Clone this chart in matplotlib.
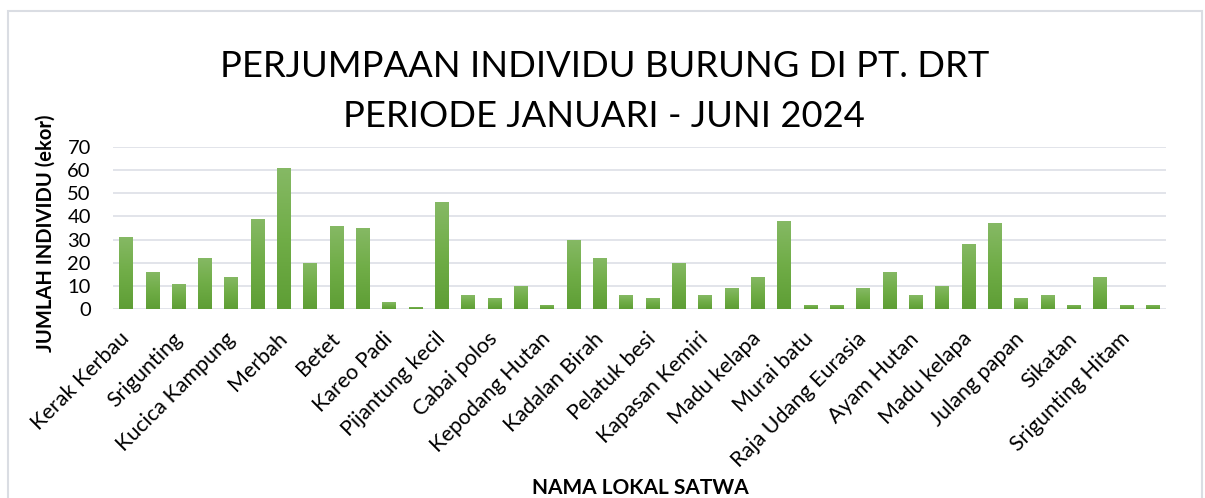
import numpy as np
import matplotlib.pyplot as plt
import matplotlib.transforms as mtransforms
from matplotlib.colors import LinearSegmentedColormap
from matplotlib.patches import Rectangle

# jumlah individu per jenis (40 batang), label hanya tampil tiap 2 batang
jumlah = [31, 16, 11, 22, 14, 39, 61, 20, 36, 35,
          3, 1, 46, 6, 5, 10, 2, 30, 22, 6,
          5, 20, 6, 9, 14, 38, 2, 2, 9, 16,
          6, 10, 28, 37, 5, 6, 2, 14, 2, 2]
label_satwa = ['Kerak Kerbau', 'Srigunting', 'Kucica Kampung', 'Merbah', 'Betet',
               'Kareo Padi', 'Pijantung kecil', 'Cabai polos', 'Kepodang Hutan',
               'Kadalan Birah', 'Pelatuk besi', 'Kapasan Kemiri', 'Madu kelapa',
               'Murai batu', 'Raja Udang Eurasia', 'Ayam Hutan', 'Madu kelapa',
               'Julang papan', 'Sikatan', 'Srigunting Hitam']
y_ticks = [0, 10, 20, 30, 40, 50, 60, 70]

FONT = 'Lato'
W, H = 1205, 498

fig = plt.figure(figsize=(W / 100, H / 100), dpi=100)
ax = fig.add_axes([113 / W, 1 - 309.3 / H, 1053 / W, 162.6 / H])

x = np.arange(len(jumlah))
bars = ax.bar(x, jumlah, width=0.53, color='#70AD47', zorder=2)

# gradasi hijau seperti Excel
cmap = LinearSegmentedColormap.from_list('hijau', ['#5E9E35', '#70AD47', '#86B965'])
grad = np.linspace(1, 0, 256)[:, None]
for b in bars:
    im = ax.imshow(grad, cmap=cmap, aspect='auto', zorder=3,
                   extent=[b.get_x(), b.get_x() + b.get_width(), 0, b.get_height()])
    im.set_clip_path(b)

ax.set_xlim(-0.5, len(jumlah) - 0.5)
ax.set_ylim(0, 70)
ax.set_yticks(y_ticks)
ax.grid(axis='y', color='#dfe2e8', lw=1.3, zorder=0)
ax.set_axisbelow(True)
for s in ax.spines.values():
    s.set_visible(False)

ax.set_xticks(x[::2])
ax.set_xticklabels(label_satwa, rotation=45, ha='right', va='center',
                   rotation_mode='anchor', fontsize=15.5, family=FONT)
off = mtransforms.ScaledTranslation(4 / 100, 0, fig.dpi_scale_trans)
for lab in ax.get_xticklabels():
    lab.set_transform(lab.get_transform() + off)
ax.tick_params(axis='x', length=0, pad=19)
ax.tick_params(axis='y', length=0, pad=16, labelsize=14.5)
for lab in ax.get_yticklabels():
    lab.set_family(FONT)

ax.set_ylabel('JUMLAH INDIVIDU (ekor)', fontsize=14.5, fontweight='bold', family=FONT)
ax.yaxis.set_label_coords(-0.054, 0.47)

fig.text(640 / W, 1 - 488 / H, 'NAMA LOKAL SATWA', ha='center', va='center',
         fontsize=15, fontweight='bold', family=FONT)

fig.text(605 / W, 1 - 77 / H, 'PERJUMPAAN INDIVIDU BURUNG DI PT. DRT', ha='center',
         va='baseline', fontsize=26.2, fontweight='normal', family=FONT)
fig.text(604 / W, 1 - 127 / H, 'PERIODE JANUARI - JUNI 2024', ha='center',
         va='baseline', fontsize=26.2, fontweight='normal', family=FONT)

# bingkai chart
fig.patches.append(Rectangle((8 / W, -0.05), 1194 / W, 1.05 - 11 / H,
                             transform=fig.transFigure, fill=False,
                             edgecolor='#dadde3', lw=1.5))

fig.savefig('out.png', dpi=100)
